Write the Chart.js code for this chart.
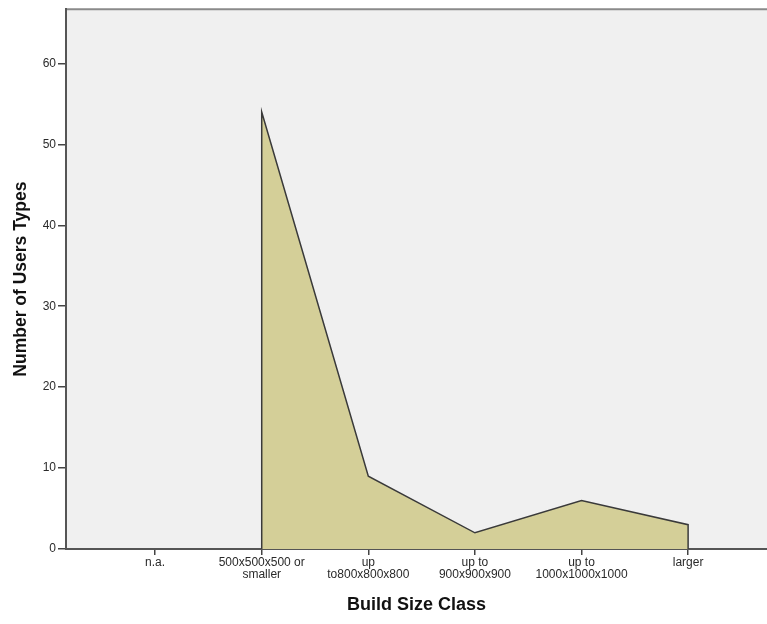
<!DOCTYPE html>
<html>
<head>
<meta charset="utf-8">
<script src="https://cdn.jsdelivr.net/npm/chart.js@4/dist/chart.umd.min.js"></script>
<style>
  html, body { margin: 0; padding: 0; background: #fff; }
  #wrap { width: 767px; height: 624px; }
</style>
</head>
<body>
<div id="wrap"><canvas id="chart"></canvas></div>
<script>
const categories = [
  "n.a.",
  ["500x500x500 or", "smaller"],
  ["up", "to800x800x800"],
  ["up to", "900x900x900"],
  ["up to", "1000x1000x1000"],
  "larger",
];
const userCounts = [null, 54, 9, 2, 6, 3];
const yTicks = [0, 10, 20, 30, 40, 50, 60];

// area points, closed down to the baseline at both ends
const present = userCounts
  .map((v, i) => ({ x: i, y: v }))
  .filter((p) => p.y !== null);
const areaPoints = [
  { x: present[0].x, y: 0 },
  ...present,
  { x: present[present.length - 1].x, y: 0 },
];

const plotBg = {
  id: "plotBg",
  beforeDraw(chart) {
    const { ctx, chartArea: a } = chart;
    ctx.save();
    ctx.fillStyle = "#f0f0f0";
    ctx.fillRect(a.left, a.top, a.right - a.left, a.bottom - a.top);
    ctx.strokeStyle = "#8a8a8a";
    ctx.lineWidth = 2;
    ctx.beginPath();
    ctx.moveTo(a.left, a.top);
    ctx.lineTo(a.right, a.top);
    ctx.stroke();
    ctx.restore();
  },
};

new Chart(document.getElementById("chart"), {
  type: "line",
  data: {
    datasets: [
      {
        label: "Number of Users Types",
        data: areaPoints,
        fill: "origin",
        backgroundColor: "#d4cf98",
        borderColor: "#3a3a3a",
        borderWidth: 1.5,
        pointRadius: 0,
        tension: 0,
      },
    ],
  },
  options: {
    responsive: true,
    maintainAspectRatio: false,
    animation: false,
    layout: { padding: { top: 7, right: 0, bottom: 0, left: 0 } },
    plugins: {
      legend: { display: false },
      tooltip: { enabled: false },
    },
    scales: {
      x: {
        type: "linear",
        min: -0.836,
        max: 5.74,
        afterBuildTicks: (scale) => {
          scale.ticks = categories.map((_, i) => ({ value: i }));
        },
        afterFit: (scale) => {
          scale.height = 75;
        },
        ticks: {
          autoSkip: false,
          maxRotation: 0,
          padding: 1,
          color: "#2a2a2a",
          font: { family: "Liberation Sans, Arial", size: 12, lineHeight: 1.05 },
          callback: (v) => categories[v],
        },
        grid: {
          drawOnChartArea: false,
          drawTicks: true,
          tickLength: 6,
          color: "#444",
          lineWidth: 1.5,
        },
        border: { display: true, color: "#555", width: 2 },
        title: {
          display: true,
          text: "Build Size Class",
          color: "#111",
          font: { family: "Liberation Sans, Arial", size: 18, weight: "bold" },
          padding: { top: 0, bottom: 8 },
        },
      },
      y: {
        min: 0,
        max: 66.7,
        afterBuildTicks: (scale) => {
          scale.ticks = yTicks.map((v) => ({ value: v }));
        },
        afterFit: (scale) => {
          scale.width = 66;
        },
        ticks: {
          padding: 2,
          color: "#2a2a2a",
          font: { family: "Liberation Sans, Arial", size: 12 },
        },
        grid: {
          drawOnChartArea: false,
          drawTicks: true,
          tickLength: 8,
          color: "#444",
          lineWidth: 1.5,
        },
        border: { display: true, color: "#555", width: 2 },
        title: {
          display: true,
          text: "Number of Users Types",
          color: "#111",
          font: { family: "Liberation Sans, Arial", size: 17.5, weight: "bold" },
          padding: { top: 11, bottom: 0 },
        },
      },
    },
  },
  plugins: [plotBg],
});
</script>
</body>
</html>
